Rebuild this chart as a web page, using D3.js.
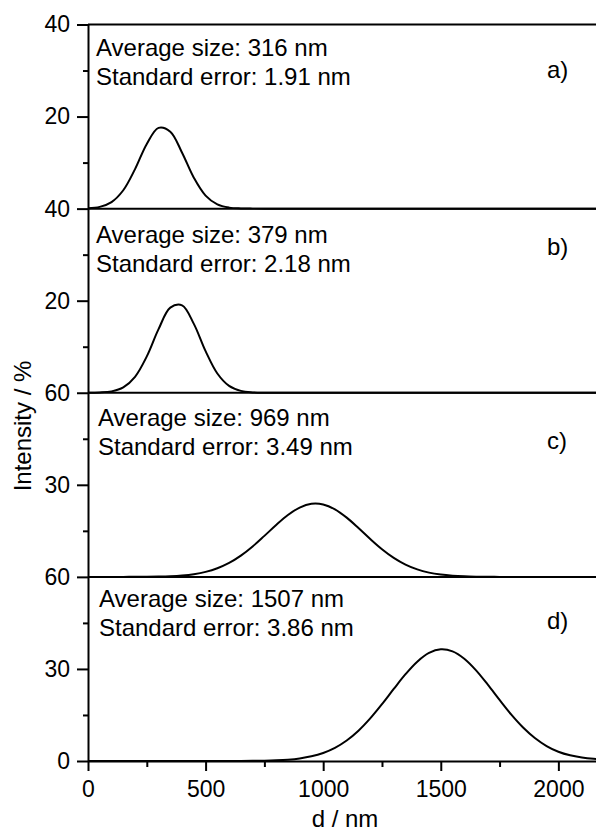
<!DOCTYPE html>
<html>
<head>
<meta charset="utf-8">
<script src="https://cdn.jsdelivr.net/npm/d3@7"></script>
<style>
  body { margin: 0; background: #fff; }
  svg { display: block; }
  text { font-family: "Liberation Sans", Arial, sans-serif; fill: #000; }
</style>
</head>
<body>
<svg id="chart" width="596" height="833"></svg>
<script>
// hydrodynamic diameter grid (nm), shared by all four distributions
const sizes = [0, 50, 100, 150, 200, 250, 300, 350, 400, 450, 500, 550, 600, 650, 700, 750,
  800, 850, 900, 950, 1000, 1050, 1100, 1150, 1200, 1250, 1300, 1350, 1400, 1450, 1500,
  1550, 1600, 1650, 1700, 1750, 1800, 1850, 1900, 1950, 2000, 2050, 2100, 2150, 2200];

// intensity (%)
const intensityA = [0.08, 0.38, 1.42, 3.99, 8.58, 14.06, 17.55, 16.72, 12.14, 6.72, 2.83, 0.91, 0.22, 0.04,
  0, 0, 0, 0, 0, 0, 0, 0, 0, 0, 0, 0, 0, 0, 0, 0, 0, 0, 0, 0, 0, 0, 0, 0, 0, 0, 0, 0, 0, 0, 0];
const intensityB = [0.01, 0.06, 0.30, 1.17, 3.47, 7.90, 13.81, 18.49, 18.99, 14.96, 9.03, 4.18, 1.48, 0.40, 0.08, 0.01,
  0, 0, 0, 0, 0, 0, 0, 0, 0, 0, 0, 0, 0, 0, 0, 0, 0, 0, 0, 0, 0, 0, 0, 0, 0, 0, 0, 0, 0];
const intensityC = [0, 0, 0, 0, 0.02, 0.04, 0.10, 0.22, 0.46, 0.89, 1.63, 2.81, 4.54, 6.92, 9.91, 13.36,
  16.91, 20.15, 22.58, 23.81, 23.60, 22.01, 19.30, 15.92, 12.35, 9.02, 6.19, 4.00, 2.43, 1.39, 0.75,
  0.38, 0.18, 0.08, 0.03, 0, 0, 0, 0, 0, 0, 0, 0, 0, 0];
const intensityD = [0, 0, 0, 0, 0, 0, 0, 0, 0, 0, 0, 0, 0.01, 0.02, 0.05, 0.10,
  0.22, 0.44, 0.84, 1.52, 2.62, 4.29, 6.68, 9.87, 13.87, 18.51, 23.47, 28.29, 32.37, 35.21, 36.38,
  35.72, 33.32, 29.53, 24.86, 19.89, 15.11, 10.92, 7.49, 4.88, 3.02, 1.85, 1.15, 0.70, 0.42];

const panelLabels = ["a)", "b)", "c)", "d)"];
const averageSizes = ["316", "379", "969", "1507"];
const standardErrors = ["1.91", "2.18", "3.49", "3.86"];
const yMaxima = [40, 40, 60, 60];
const xTicks = [0, 500, 1000, 1500, 2000];
const xMinorTicks = [250, 750, 1250, 1750];

const allSeries = [intensityA, intensityB, intensityC, intensityD];

// layout
const plotLeft = 88, plotRight = 596, plotTop = 24.5, plotBottom = 761;
const panelH = (plotBottom - plotTop) / 4;
// small per-panel nudges for the text placed inside each panel
const noteX = [96, 96, 98, 99];
const noteDy = [31.5, 34.5, 33.5, 30.5];
const labelDy = [53.5, 46, 56.5, 52];

const svg = d3.select("#chart");

const x = d3.scaleLinear().domain([0, 2160]).range([plotLeft, plotRight]);

const line = d3.line()
  .x((d, i) => x(sizes[i]))
  .curve(d3.curveCatmullRom.alpha(0.5));

allSeries.forEach(function(series, p) {
  const y0 = plotTop + p * panelH, y1 = y0 + panelH;
  const ymax = yMaxima[p];
  const y = d3.scaleLinear().domain([0, ymax]).range([y1, y0]);

  const g = svg.append("g").attr("class", "panel");

  // curve
  g.append("path")
    .datum(series)
    .attr("fill", "none")
    .attr("stroke", "#000")
    .attr("stroke-width", 2)
    .attr("d", line.y(d => y(d)));

  // left axis, major ticks
  const major = p === 3 ? [0, ymax / 2, ymax] : [ymax / 2, ymax];
  g.append("g")
    .attr("transform", `translate(${plotLeft},0)`)
    .call(d3.axisLeft(y).tickValues(major).tickSize(11).tickSizeOuter(0).tickPadding(7))
    .call(a => a.selectAll("text").style("font-size", "23px"))
    .call(a => a.attr("font-family", null))
    .call(a => a.selectAll("path, line").attr("stroke-width", 2));

  // left axis, minor ticks
  g.append("g")
    .attr("transform", `translate(${plotLeft},0)`)
    .call(d3.axisLeft(y).tickValues([ymax / 4, ymax * 3 / 4]).tickSize(5).tickFormat(""))
    .call(a => a.select(".domain").remove())
    .call(a => a.selectAll("line").attr("stroke-width", 2));

  // panel separators
  if (p === 0) {
    g.append("line")
      .attr("x1", plotLeft).attr("x2", plotRight)
      .attr("y1", y0).attr("y2", y0)
      .attr("stroke", "#000").attr("stroke-width", 2);
  }
  if (p < 3) {
    g.append("line")
      .attr("x1", plotLeft).attr("x2", plotRight)
      .attr("y1", y1).attr("y2", y1)
      .attr("stroke", "#000").attr("stroke-width", 2);
  }

  // annotation
  const note = g.append("text")
    .attr("x", noteX[p])
    .attr("y", y0 + noteDy[p])
    .style("font-size", "24px");
  note.append("tspan").text("Average size: " + averageSizes[p] + " nm");
  note.append("tspan")
    .attr("x", noteX[p]).attr("dy", 28.5)
    .text("Standard error: " + standardErrors[p] + " nm");

  g.append("text")
    .attr("x", 547)
    .attr("y", y0 + labelDy[p])
    .style("font-size", "24px")
    .text(panelLabels[p]);
});

// bottom axis
svg.append("g")
  .attr("transform", `translate(0,${plotBottom})`)
  .call(d3.axisBottom(x).tickValues(xTicks).tickFormat(d3.format("d"))
    .tickSize(10).tickSizeOuter(0).tickPadding(10))
  .call(a => a.selectAll("text").style("font-size", "23px"))
  .call(a => a.attr("font-family", null))
  .call(a => a.selectAll("path, line").attr("stroke-width", 2));

svg.append("g")
  .attr("transform", `translate(0,${plotBottom})`)
  .call(d3.axisBottom(x).tickValues(xMinorTicks).tickSize(6).tickFormat(""))
  .call(a => a.select(".domain").remove())
  .call(a => a.selectAll("line").attr("stroke-width", 2));

// axis titles
svg.append("text")
  .attr("x", 345)
  .attr("y", 827)
  .attr("text-anchor", "middle")
  .style("font-size", "24px")
  .text("d / nm");

svg.append("text")
  .attr("transform", "translate(30.5,426) rotate(-90)")
  .attr("text-anchor", "middle")
  .style("font-size", "24px")
  .text("Intensity / %");
</script>
</body>
</html>
